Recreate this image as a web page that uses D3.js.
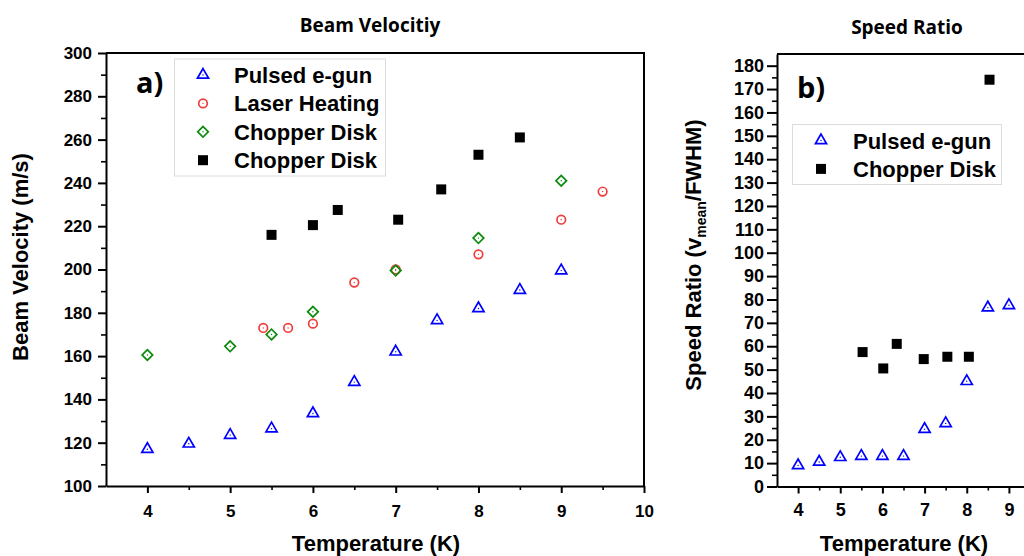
<!DOCTYPE html>
<html>
<head>
<meta charset="utf-8">
<script src="https://cdn.jsdelivr.net/npm/d3@7"></script>
<style>
body { margin: 0; background: #fff; }
svg { display: block; }
.tick text { font-family: "Liberation Sans", Arial, sans-serif; font-weight: bold; fill: #000; }
.domain, .tick line { stroke: #000; stroke-width: 2; }
.minor .tick line { stroke-width: 1.6; }
</style>
</head>
<body>
<script>
// panel a) beam velocity (m/s) vs temperature (K)
const egunT = [4, 4.5, 5, 5.5, 6, 6.5, 7, 7.5, 8, 8.5, 9];
const egunVel = [117, 119.5, 123.5, 126.5, 133.5, 148, 162, 176.5, 182, 190.5, 199.5];
const laserT = [5.4, 5.7, 6, 6.5, 7, 8, 9, 9.5];
const laserVel = [173, 173, 175, 194, 200, 207, 223, 236];
const diskT = [4, 5, 5.5, 6, 7, 8, 9];
const diskVel = [160.5, 164.5, 170, 180.5, 199.5, 214.5, 241];
const chopT = [5.5, 6, 6.3, 7.03, 7.55, 8, 8.5];
const chopVel = [216, 220.5, 227.5, 223, 237, 253, 261];

// panel b) speed ratio
const egunRatio = [9, 10.5, 12.5, 13, 13, 13, 24.5, 27, 45, 76.5, 77.5];
const chopRatioT = [5.53, 6.02, 6.34, 6.98, 7.54, 8.05, 8.54];
const chopRatio = [57.5, 50.5, 61, 54.5, 55.5, 55.5, 174];

const legendA = ['Pulsed e-gun', 'Laser Heating', 'Chopper Disk', 'Chopper Disk'];
const legendB = ['Pulsed e-gun', 'Chopper Disk'];

const blue = '#0000ff', red = '#ee3e3e', green = '#0a8a0a', black = '#000';

const svg = d3.select('body').append('svg').attr('width', 1024).attr('height', 556);

const sym = {
    tri: { type: d3.symbolTriangle, size: 54, color: blue, fill: 'none', rot: 0 },
    circ: { type: d3.symbolCircle, size: 58, color: red, fill: 'none', rot: 0 },
    diam: { type: d3.symbolSquare, size: 56, color: green, fill: 'none', rot: 45 },
    sq: { type: d3.symbolSquare, size: 100, color: black, fill: black, rot: 0 }
};

function drawMarker(g, kind, x, y) {
    const s = sym[kind];
    g.append('path')
        .attr('d', d3.symbol().type(s.type).size(s.size)())
        .attr('transform', `translate(${x},${y}) rotate(${s.rot})`)
        .attr('fill', s.fill)
        .attr('stroke', s.color)
        .attr('stroke-width', s.fill === 'none' ? 1.7 : 0);
    if (s.fill === 'none') {
        g.append('circle').attr('cx', x).attr('cy', y).attr('r', 0.7).attr('fill', s.color);
    }
}

function series(xs, ys, kind, x, y) {
    const g = svg.append('g');
    xs.forEach((t, i) => drawMarker(g, kind, x(t), y(ys[i])));
}

function legend(box, rows, kinds, mx, tx, y0, step) {
    svg.append('rect')
        .attr('x', box[0]).attr('y', box[1]).attr('width', box[2]).attr('height', box[3])
        .attr('fill', '#fff').attr('stroke', '#dcdcdc').attr('stroke-width', 1);
    const g = svg.append('g');
    rows.forEach((r, i) => {
        const by = y0 + i * step;
        drawMarker(g, kinds[i], mx, by - 8);
        g.append('text').attr('x', tx).attr('y', by)
            .style('font-family', '"Liberation Sans", Arial, sans-serif')
            .style('font-weight', 'bold').style('font-size', '22px')
            .text(r);
    });
}

function label(x, y, txt, size, anchor, family) {
    return svg.append('text').attr('x', x).attr('y', y)
        .attr('text-anchor', anchor)
        .style('font-family', family)
        .style('font-weight', 'bold').style('font-size', size + 'px')
        .text(txt);
}

const arial = '"Liberation Sans", Arial, sans-serif';
const calib = '"Open Sans", sans-serif';
const intFmt = d3.format('d');

// ---------- panel a ----------
const xA = d3.scaleLinear().domain([3.5, 10]).range([106, 644]);
const yA = d3.scaleLinear().domain([100, 300]).range([486, 53]);

svg.append('g').attr('class', 'minor').attr('transform', 'translate(0,486)')
    .call(d3.axisBottom(xA).tickValues(d3.range(4.5, 10, 1)).tickSize(4).tickFormat(''))
    .select('.domain').remove();
svg.append('g').attr('transform', 'translate(0,486)')
    .call(d3.axisBottom(xA).tickValues(d3.range(4, 10.01, 1)).tickSize(7).tickPadding(12)
        .tickSizeOuter(0).tickFormat(intFmt))
    .selectAll('text').style('font-size', '17px');

svg.append('g').attr('class', 'minor').attr('transform', 'translate(106,0)')
    .call(d3.axisLeft(yA).tickValues(d3.range(110, 300, 20)).tickSize(5).tickFormat(''))
    .select('.domain').remove();
svg.append('g').attr('transform', 'translate(106,0)')
    .call(d3.axisLeft(yA).tickValues(d3.range(100, 301, 20)).tickSize(8).tickPadding(6)
        .tickSizeOuter(0).tickFormat(intFmt))
    .selectAll('text').style('font-size', '17px');

svg.append('path')
    .attr('d', `M${xA(3.5)},${yA(300)}H${xA(10)}V${yA(100)}`)
    .attr('fill', 'none').attr('stroke', '#000').attr('stroke-width', 2);

series(egunT, egunVel, 'tri', xA, yA);
series(laserT, laserVel, 'circ', xA, yA);
series(diskT, diskVel, 'diam', xA, yA);
series(chopT, chopVel, 'sq', xA, yA);

legend([174.5, 59, 211, 117], legendA, ['tri', 'circ', 'diam', 'sq'], 203, 234, 83, 28.4);

label(370, 32, 'Beam Velocitiy', 19, 'middle', calib);
label(136, 93, 'a)', 29, 'start', calib);
label(376, 551, 'Temperature (K)', 22, 'middle', arial);
label(0, 0, 'Beam Velocity (m/s)', 22, 'middle', arial)
    .attr('transform', 'translate(28,257) rotate(-90)');

// ---------- panel b ----------
const xB = d3.scaleLinear().domain([3.5, 9.5]).range([777, 1030]);
const yB = d3.scaleLinear().domain([0, 185]).range([486.5, 54]);

svg.append('g').attr('class', 'minor').attr('transform', 'translate(0,486.5)')
    .call(d3.axisBottom(xB).tickValues(d3.range(4.5, 9.6, 1)).tickSize(4).tickFormat(''))
    .select('.domain').remove();
svg.append('g').attr('transform', 'translate(0,486.5)')
    .call(d3.axisBottom(xB).tickValues(d3.range(4, 9.01, 1)).tickSize(7).tickPadding(10)
        .tickSizeOuter(0).tickFormat(intFmt))
    .selectAll('text').style('font-size', '18px');

svg.append('g').attr('class', 'minor').attr('transform', 'translate(777,0)')
    .call(d3.axisLeft(yB).tickValues(d3.range(5, 185, 10)).tickSize(5).tickFormat(''))
    .select('.domain').remove();
svg.append('g').attr('transform', 'translate(777,0)')
    .call(d3.axisLeft(yB).tickValues(d3.range(0, 181, 10)).tickSize(10).tickPadding(3)
        .tickSizeOuter(0).tickFormat(intFmt))
    .selectAll('text').style('font-size', '18px');

svg.append('path')
    .attr('d', `M${xB(3.5)},${yB(185)}H${xB(9.5)}`)
    .attr('fill', 'none').attr('stroke', '#000').attr('stroke-width', 2);

series(egunT, egunRatio, 'tri', xB, yB);
series(chopRatioT, chopRatio, 'sq', xB, yB);

legend([792.5, 124.5, 209, 60], legendB, ['tri', 'sq'], 821, 853, 148.5, 28.4);

label(907, 34, 'Speed Ratio', 19, 'middle', calib);
label(797, 98, 'b)', 29, 'start', calib);
label(904, 551, 'Temperature (K)', 22, 'middle', arial);

const yt = label(0, 0, '', 22, 'middle', arial)
    .attr('transform', 'translate(701,255) rotate(-90)');
yt.append('tspan').text('Speed Ratio (v');
yt.append('tspan').attr('dy', 5).style('font-size', '14px').text('mean');
yt.append('tspan').attr('dy', -5).text('/FWHM)');
</script>
</body>
</html>
